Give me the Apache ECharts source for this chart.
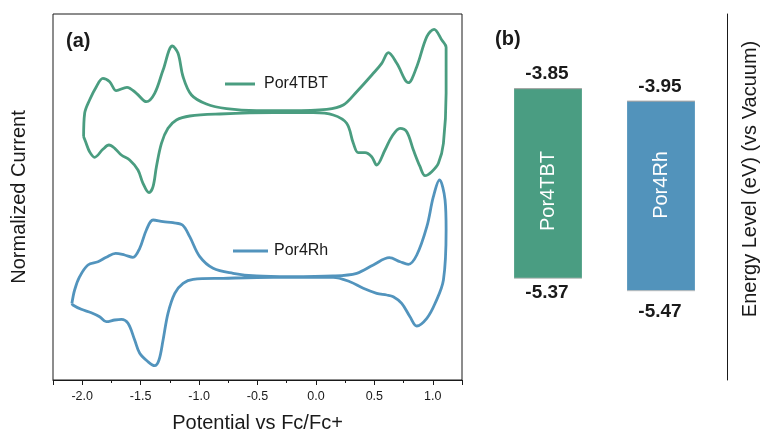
<!DOCTYPE html>
<html>
<head>
<meta charset="utf-8">
<script src="https://cdn.jsdelivr.net/npm/echarts@6/dist/echarts.min.js"></script>
<style>
  html, body { margin: 0; padding: 0; background: #fff; }
  #chart { width: 763px; height: 430px; }
</style>
</head>
<body>
<div id="chart"></div>
<script>
// ---------- Data ----------
// (a) Cyclic voltammograms: potential (V vs Fc/Fc+) and normalized current (arb. units)
const tbtPotential = [-1.988,-1.979,-1.937,-1.879,-1.823,-1.765,-1.708,-1.617,-1.536,-1.451,-1.380,-1.308,-1.228,-1.180,-1.137,-1.065,-0.937,-0.765,-0.508,-0.223,0.092,0.234,0.349,0.491,0.563,0.620,0.692,0.791,0.863,0.949,1.011,1.077,1.114,1.114,1.091,1.048,0.991,0.934,0.891,0.834,0.777,0.720,0.649,0.591,0.520,0.477,0.420,0.362,0.320,0.263,0.148,-0.023,-0.366,-0.823,-1.080,-1.194,-1.266,-1.322,-1.365,-1.394,-1.428,-1.480,-1.523,-1.594,-1.665,-1.722,-1.771,-1.823,-1.894,-1.937,-1.971,-1.988];
const tbtCurrent   = [24.33,26.67,28.0,29.33,30.17,29.83,28.93,29.27,28.67,27.83,28.67,31.0,33.4,32.67,30.33,28.5,27.6,27.13,26.93,26.93,27.07,27.5,28.83,30.67,31.67,32.73,31.67,29.73,31.33,34.33,35.07,34.0,33.27,28.67,23.67,21.67,20.83,20.43,21.33,23.0,24.83,25.17,24.33,23.0,21.5,22.33,22.73,22.73,23.67,25.67,26.5,26.73,26.73,26.6,26.4,26.0,25.17,23.67,21.33,19.33,18.73,19.67,21.0,22.0,22.5,23.17,23.5,23.07,22.27,22.83,23.83,24.33];
const rhPotential  = [-2.088,-2.065,-2.022,-1.951,-1.865,-1.794,-1.714,-1.637,-1.566,-1.508,-1.451,-1.394,-1.308,-1.223,-1.142,-1.080,-0.994,-0.880,-0.709,-0.508,-0.223,0.148,0.349,0.491,0.628,0.720,0.791,0.863,0.949,1.005,1.057,1.105,1.114,1.091,1.020,0.949,0.863,0.805,0.734,0.662,0.606,0.520,0.405,0.291,0.148,-0.366,-0.794,-1.051,-1.137,-1.208,-1.266,-1.308,-1.343,-1.380,-1.437,-1.508,-1.551,-1.608,-1.665,-1.722,-1.794,-1.851,-1.922,-2.008,-2.080,-2.088];
const rhCurrent    = [7.67,9.0,10.33,11.5,11.83,12.27,12.67,12.5,12.27,13.17,15.0,16.0,15.83,15.73,15.5,14.33,12.33,11.17,10.67,10.4,10.33,10.4,10.67,11.5,12.23,11.83,11.57,12.5,15.33,18.33,20.0,18.0,15.0,10.0,7.67,6.17,5.4,6.33,7.67,8.33,8.5,8.67,9.17,9.83,10.27,10.27,10.17,10.07,9.67,8.67,6.67,4.0,2.0,1.43,1.83,2.67,4.0,5.67,6.07,6.0,5.83,6.33,6.73,7.07,7.5,7.67];
const seriesNames = ['Por4TBT', 'Por4Rh'];

// (b) Energy levels (eV vs vacuum)
const categories = ['Por4TBT', 'Por4Rh'];
const lumo = [-3.85, -3.95];
const homo = [-5.37, -5.47];

// ---------- Styles ----------
const GREEN = '#4a9d80';
const BLUE = '#5294bd';
const BAR_COLORS = ['#4a9d82', '#5293bb'];
const FONT = 'Liberation Sans, Arial, Helvetica, sans-serif';
const INK = '#1a1a1a';
const homoLabelGap = [15, 21];
const nameAnchorEnergy = -4.35;

const zip = (xs, ys) => xs.map((x, i) => [x, ys[i]]);

const chart = echarts.init(document.getElementById('chart'), null, { renderer: 'canvas' });

const option = {
  animation: false,
  backgroundColor: '#fff',
  textStyle: { fontFamily: FONT },
  grid: [
    { left: 53, top: 14, width: 409, height: 366, show: true, borderColor: INK, borderWidth: 1,
      containLabel: false, outerBoundsMode: 'none' },
    { left: 491.5, top: 14, width: 226, height: 366, containLabel: false, outerBoundsMode: 'none' }
  ],
  legend: [
    {
      data: [seriesNames[0]], left: 225, top: 76, padding: 0, icon: 'rect',
      itemWidth: 30, itemHeight: 3, itemGap: 0,
      textStyle: { fontSize: 16, color: INK, fontFamily: FONT, lineHeight: 16, padding: [0, 0, 0, 4] }
    },
    {
      data: [seriesNames[1]], left: 233, top: 243, padding: 0, icon: 'rect',
      itemWidth: 35, itemHeight: 3, itemGap: 0,
      textStyle: { fontSize: 16, color: INK, fontFamily: FONT, lineHeight: 16, padding: [0, 0, 0, 1] }
    }
  ],
  xAxis: [
    {
      type: 'value', gridIndex: 0, min: -2.25, max: 1.25, splitNumber: 7,
      name: 'Potential vs Fc/Fc+', nameLocation: 'middle', nameGap: 33,
      nameTextStyle: { fontSize: 20, color: INK, fontFamily: FONT },
      axisLine: { show: true, lineStyle: { color: INK, width: 1 } },
      axisTick: { show: true, length: 5, lineStyle: { color: INK } },
      minorTick: { show: true, splitNumber: 2, length: 3, lineStyle: { color: INK } },
      axisLabel: {
        margin: 10, fontSize: 12.5, color: INK, fontFamily: FONT,
        showMinLabel: false, showMaxLabel: false,
        formatter: v => (Math.abs(v * 2 - Math.round(v * 2)) < 1e-6 ? v.toFixed(1) : '')
      },
      splitLine: { show: false }, minorSplitLine: { show: false }
    },
    {
      type: 'category', gridIndex: 1, data: categories, boundaryGap: true,
      show: false
    }
  ],
  yAxis: [
    {
      type: 'value', gridIndex: 0, min: 0, max: 36.6,
      name: 'Normalized Current', nameLocation: 'middle', nameGap: 24,
      nameTextStyle: { fontSize: 20, color: INK, fontFamily: FONT },
      axisLine: { show: false }, axisTick: { show: false }, axisLabel: { show: false },
      splitLine: { show: false }
    },
    {
      type: 'value', gridIndex: 1, min: -6.186, max: -3.251, position: 'right', offset: 9.5,
      axisLine: { show: true, onZero: false, lineStyle: { color: INK, width: 1 } },
      axisTick: { show: false }, axisLabel: { show: false }, splitLine: { show: false }
    }
  ],
  graphic: [
    { type: 'text', left: 66, top: 31, style: { text: '(a)', font: 'bold 20px ' + FONT, fill: INK } },
    { type: 'text', left: 495, top: 29, style: { text: '(b)', font: 'bold 20px ' + FONT, fill: INK } },
    {
      type: 'text', x: 750, y: 179, rotation: Math.PI / 2,
      style: { text: 'Energy Level (eV) (vs Vacuum)', font: '20px ' + FONT, fill: INK, align: 'center', verticalAlign: 'middle' }
    }
  ],
  series: [
    {
      name: seriesNames[0], type: 'line', xAxisIndex: 0, yAxisIndex: 0,
      data: zip(tbtPotential, tbtCurrent), smooth: 0.35, symbol: 'none',
      lineStyle: { color: GREEN, width: 2.8 }, itemStyle: { color: GREEN }
    },
    {
      name: seriesNames[1], type: 'line', xAxisIndex: 0, yAxisIndex: 0,
      data: zip(rhPotential, rhCurrent), smooth: 0.35, symbol: 'none',
      lineStyle: { color: BLUE, width: 2.8 }, itemStyle: { color: BLUE }
    },
    {
      name: 'levels', type: 'custom', xAxisIndex: 1, yAxisIndex: 1,
      data: categories.map((c, i) => [i, lumo[i], homo[i]]),
      encode: { x: 0, y: [1, 2] },
      renderItem: function (params, api) {
        const i = params.dataIndex;
        const top = api.coord([api.value(0), api.value(1)]);
        const bot = api.coord([api.value(0), api.value(2)]);
        const anchor = api.coord([api.value(0), nameAnchorEnergy]);
        const w = api.size([1, 0])[0] * 0.6;
        const cx = top[0];
        return {
          type: 'group',
          children: [
            { type: 'rect', shape: { x: cx - w / 2, y: top[1], width: w, height: bot[1] - top[1] },
              style: { fill: BAR_COLORS[i] } },
            { type: 'line', shape: { x1: cx - w / 2, y1: top[1], x2: cx + w / 2, y2: top[1] },
              style: { stroke: '#9a9a9a', lineWidth: 1 } },
            { type: 'line', shape: { x1: cx - w / 2, y1: bot[1], x2: cx + w / 2, y2: bot[1] },
              style: { stroke: '#bdbdbd', lineWidth: 1 } },
            { type: 'text', x: cx, y: anchor[1], rotation: Math.PI / 2,
              style: { text: categories[i], font: '20px ' + FONT, fill: '#fff', align: 'right', verticalAlign: 'middle' } },
            { type: 'text', x: cx - 1, y: top[1] - 14.5,
              style: { text: lumo[i].toFixed(2), font: 'bold 19px ' + FONT, fill: INK, align: 'center', verticalAlign: 'middle' } },
            { type: 'text', x: cx - 1, y: bot[1] + homoLabelGap[i],
              style: { text: homo[i].toFixed(2), font: 'bold 19px ' + FONT, fill: INK, align: 'center', verticalAlign: 'middle' } }
          ]
        };
      }
    }
  ]
};

chart.setOption(option);
</script>
</body>
</html>
